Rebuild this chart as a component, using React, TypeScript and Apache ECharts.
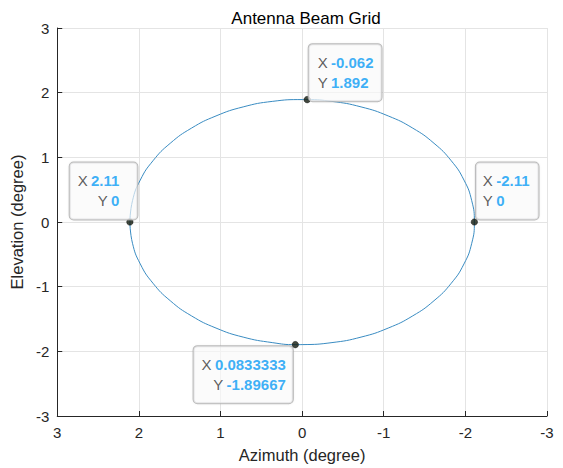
import React, { useEffect, useRef } from "react";
import * as echarts from "echarts";

const titleText = "Antenna Beam Grid";
const xName = "Azimuth (degree)";
const yName = "Elevation (degree)";

// ellipse points (x = azimuth, y = elevation)
const beamX = [2.11, 2.078, 1.983, 1.827, 1.616, 1.356, 1.055, 0.722, 0.366, 0.0, -0.062, -0.366, -0.722, -1.055, -1.356, -1.616, -1.827, -1.983, -2.078, -2.11,
  -2.078, -1.983, -1.827, -1.616, -1.356, -1.055, -0.722, -0.366, 0.0, 0.0833, 0.366, 0.722, 1.055, 1.356, 1.616, 1.827, 1.983, 2.078, 2.11];
const beamY = [0.0, 0.329, 0.648, 0.947, 1.217, 1.451, 1.64, 1.78, 1.865, 1.893, 1.892, 1.865, 1.78, 1.64, 1.451, 1.217, 0.947, 0.648, 0.329, 0.0,
  -0.329, -0.648, -0.947, -1.217, -1.451, -1.64, -1.78, -1.865, -1.896, -1.8967, -1.865, -1.78, -1.64, -1.451, -1.217, -0.947, -0.648, -0.329, 0.0];

// data tips
const tipX = [-0.062, 2.11, -2.11, 0.0833333];
const tipY = [1.892, 0, 0, -1.89667];
const tipXText = ["-0.062", "2.11", "-2.11", "0.0833333"];
const tipYText = ["1.892", "0", "0", "-1.89667"];

const FONT = "'Liberation Sans', Arial, Helvetica, sans-serif";

export default function App() {
  const ref = useRef<HTMLDivElement>(null);
  useEffect(() => {
    if (!ref.current) return;
    const chart = echarts.init(ref.current, null, { renderer: "svg" });
    const lineData = beamX.map((x, i) => [x, beamY[i]]);
    const tipLayouts = [
      { position: [5, 5], align: "left", verticalAlign: "bottom", padding: [8, 8, 9, 9] },
      { position: [11, 1], align: "right", verticalAlign: "bottom", padding: [8, 18, 9, 8] },
      { position: [5, 1], align: "left", verticalAlign: "bottom", padding: [8, 9, 9, 7] },
      { position: [1, 5], align: "right", verticalAlign: "top", padding: [8, 7, 9, 8] },
    ];
    const tipData = tipX.map((x, i) => ({
      value: [x, tipY[i]],
      label: {
        show: true,
        ...tipLayouts[i],
        formatter: `{k|X} {v|${tipXText[i]}}\n{k|Y} {v|${tipYText[i]}}`,
      },
    }));
    chart.setOption({
      animation: false,
      backgroundColor: "#ffffff",
      textStyle: { fontFamily: FONT },
      title: {
        text: titleText,
        left: 301,
        top: 5,
        textAlign: "center",
        textStyle: { fontFamily: FONT, fontSize: 17, fontWeight: "normal", color: "#000" },
      },
      grid: { left: 55, right: 16, top: 28, bottom: 50, containLabel: false },
      xAxis: {
        type: "value",
        inverse: true,
        min: -3,
        max: 3,
        interval: 1,
        name: xName,
        nameLocation: "middle",
        nameGap: 30,
        nameTextStyle: { fontFamily: FONT, fontSize: 16.5, color: "#262626" },
        axisLine: { show: true, onZero: false, lineStyle: { color: "#262626", width: 1 } },
        axisTick: { show: true, inside: true, length: 5, lineStyle: { color: "#262626" } },
        axisLabel: { fontFamily: FONT, fontSize: 15, color: "#262626", margin: 9 },
        splitLine: { show: true, lineStyle: { color: "#e4e4e4", width: 1 } },
      },
      yAxis: {
        type: "value",
        min: -3,
        max: 3,
        interval: 1,
        name: yName,
        nameLocation: "middle",
        nameGap: 27,
        nameTextStyle: { fontFamily: FONT, fontSize: 16.5, color: "#262626" },
        axisLine: { show: true, onZero: false, lineStyle: { color: "#262626", width: 1 } },
        axisTick: { show: true, inside: true, length: 5, lineStyle: { color: "#262626" } },
        axisLabel: { fontFamily: FONT, fontSize: 15, color: "#262626", margin: 8 },
        splitLine: { show: true, lineStyle: { color: "#e4e4e4", width: 1 } },
      },
      series: [
        {
          type: "line",
          data: lineData,
          smooth: true,
          showSymbol: false,
          symbol: "none",
          lineStyle: { color: "#3a8cc2", width: 1 },
          silent: true,
          z: 2,
        },
        {
          type: "scatter",
          data: tipData,
          symbol: "circle",
          symbolSize: 6.5,
          itemStyle: { color: "#111a0e", borderColor: "#000", borderWidth: 0.5 },
          z: 3,
          label: {
            show: true,
            fontFamily: FONT,
            backgroundColor: "rgba(250,250,252,0.82)",
            borderColor: "#a8a8a8",
            borderWidth: 1,
            borderRadius: 4,
            shadowColor: "rgba(0,0,0,0.06)",
            shadowBlur: 2,
            rich: {
              k: { fontFamily: FONT, fontSize: 15, color: "#333333", lineHeight: 20 },
              v: { fontFamily: FONT, fontSize: 15, color: "#0a9bf5", fontWeight: "bold", lineHeight: 20 },
            },
          },
        },
      ],
    });
    return () => chart.dispose();
  }, []);
  return (
    <div
      ref={ref}
      style={{ position: "fixed", left: 0, top: 0, width: 563, height: 468, background: "#fff" }}
    />
  );
}
